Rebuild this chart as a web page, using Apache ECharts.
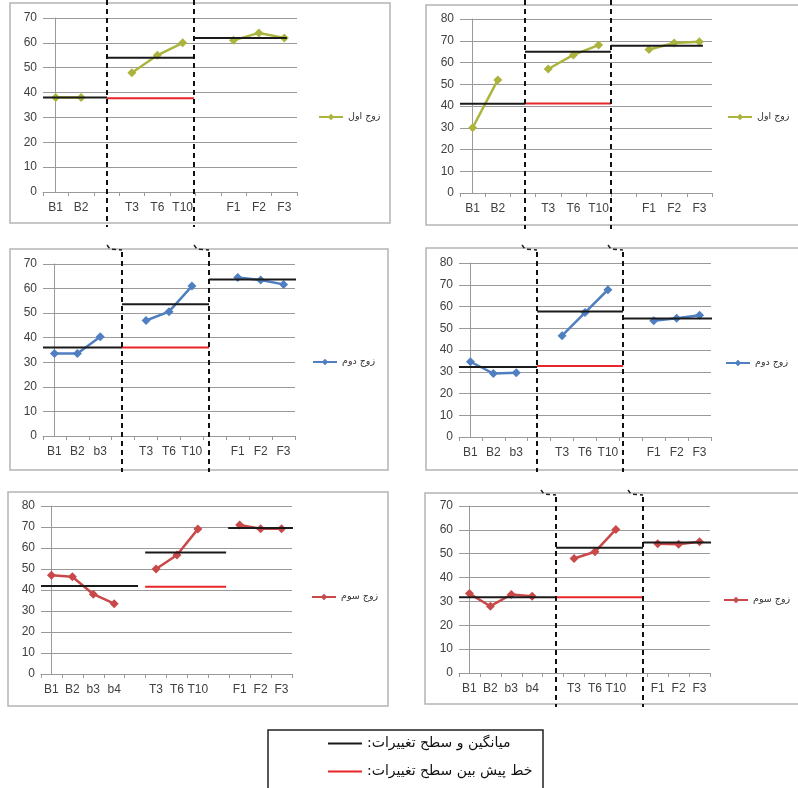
<!DOCTYPE html>
<html>
<head>
<meta charset="utf-8">
<script src="https://cdn.jsdelivr.net/npm/echarts@6/dist/echarts.min.js"></script>
<style>
  html, body { margin: 0; padding: 0; background: #fff; }
  #main { width: 798px; height: 788px; }
</style>
</head>
<body>
<div id="main"></div>
<script>
// category labels (blank entries are the gaps between phases)
const catsA = ['B1', 'B2', '', 'T3', 'T6', 'T10', '', 'F1', 'F2', 'F3'];
const catsB = ['B1', 'B2', 'b3', '', 'T3', 'T6', 'T10', '', 'F1', 'F2', 'F3'];
const catsC = ['B1', 'B2', 'b3', 'b4', '', 'T3', 'T6', 'T10', '', 'F1', 'F2', 'F3'];
const yTicks70 = 70;
const yTicks80 = 80;

// observed scores
const couple1Left = [38, 38, null, 48, 55, 60, null, 61, 64, 62];
const couple1Right = [30, 52, null, 57, 63.5, 68, null, 66, 69, 69.5];
const couple2Left = [33.6, 33.6, 40.4, null, 47, 50.6, 61, null, 64.5, 63.5, 61.7];
const couple2Right = [34.6, 29.2, 29.5, null, 46.6, 57.2, 67.7, null, 53.5, 54.6, 56];
const couple3Left = [47, 46.3, 38, 33.5, null, 50, 56.7, 69, null, 71, 69.2, 69.2];
const couple3Right = [33.3, 28, 32.9, 32.2, null, 48, 50.8, 60.2, null, 54.2, 54, 55];

// phase means (baseline, treatment, follow-up) and projected baseline level
const means1Left = [38, 54, 62];
const means1Right = [41, 65, 67.7];
const means2Left = [36, 53.6, 63.7];
const means2Right = [32.2, 57.7, 54.5];
const means3Left = [41.9, 57.8, 69.5];
const means3Right = [31.7, 52.5, 54.7];
const pred1Left = 37.7, pred1Right = 41.2, pred2Left = 36, pred2Right = 32.6, pred3Left = 41.5, pred3Right = 31.7;

// phase extents and divider positions, in category units
const phases1Left = [[-0.5, 2.02], [2.02, 5.44], [5.44, 9.1]];
const phases1Right = [[-0.5, 2.08], [2.08, 5.49], [5.49, 9.14]];
const phases2Left = [[-0.5, 2.95], [2.95, 6.75], [6.75, 10.6]];
const phases2Right = [[-0.5, 2.91], [2.91, 6.66], [6.66, 10.68]];
const phases3Left = [[-0.5, 4.14], [4.48, 8.35], [8.45, 12.47]];
const phases3Right = [[-0.5, 4.14], [4.14, 8.3], [8.3, 12.47]];
const dividers1Left = [2.02, 5.44];
const dividers1Right = [2.08, 5.49];
const dividers2Left = [2.95, 6.75];
const dividers2Right = [2.91, 6.66];
const dividers3Left = [];
const dividers3Right = [4.14, 8.3];

const NAME1 = 'زوج اول';
const NAME2 = 'زوج دوم';
const NAME3 = 'زوج سوم';
const MEAN_NAME = 'میانگین و سطح تغییرات:\u200F';
const PRED_NAME = 'خط پیش بین سطح تغییرات:\u200F';

const panels = [
  { cats: catsA, vals: couple1Left, name: NAME1, color: '#abb53e', means: means1Left, pred: pred1Left,
    phases: phases1Left, dividers: dividers1Left, max: yTicks70,
    grid: { left: 43, top: 18, width: 254, height: 174 }, frame: [10, 3, 380, 220], dash: [0, 227], hook: false,
    legend: { left: 318, top: 112 } },
  { cats: catsA, vals: couple1Right, name: NAME1, color: '#abb53e', means: means1Right, pred: pred1Right,
    phases: phases1Right, dividers: dividers1Right, max: yTicks80,
    grid: { left: 460, top: 19, width: 252, height: 174 }, frame: [426, 5, 380, 220], dash: [0, 229], hook: false,
    legend: { left: 727, top: 112 } },
  { cats: catsB, vals: couple2Left, name: NAME2, color: '#4f7fc0', means: means2Left, pred: pred2Left,
    phases: phases2Left, dividers: dividers2Left, max: yTicks70,
    grid: { left: 43, top: 264, width: 252, height: 172 }, frame: [10, 249, 378, 221], dash: [252, 472], hook: true,
    legend: { left: 312, top: 357 } },
  { cats: catsB, vals: couple2Right, name: NAME2, color: '#4f7fc0', means: means2Right, pred: pred2Right,
    phases: phases2Right, dividers: dividers2Right, max: yTicks80,
    grid: { left: 459, top: 263, width: 252, height: 174 }, frame: [426, 248, 380, 222], dash: [252, 472], hook: true,
    legend: { left: 725, top: 358 } },
  { cats: catsC, vals: couple3Left, name: NAME3, color: '#c9494a', means: means3Left, pred: pred3Left,
    phases: phases3Left, dividers: dividers3Left, max: yTicks80,
    grid: { left: 41, top: 506, width: 251, height: 168 }, frame: [8, 492, 380, 214], dash: [0, 0], hook: false,
    legend: { left: 311, top: 592 } },
  { cats: catsC, vals: couple3Right, name: NAME3, color: '#c9494a', means: means3Right, pred: pred3Right,
    phases: phases3Right, dividers: dividers3Right, max: yTicks70,
    grid: { left: 459, top: 506, width: 251, height: 167 }, frame: [425, 493, 380, 211], dash: [497, 707], hook: true,
    legend: { left: 723, top: 595 } }
];

const axisGrey = '#9a9a9a';
const labelStyle = { fontSize: 12, color: '#404040', fontFamily: 'Liberation Sans' };

const grids = [], xAxes = [], yAxes = [], series = [], legends = [];
panels.forEach((p, i) => {
  grids.push(Object.assign({ containLabel: false }, p.grid));
  xAxes.push({
    gridIndex: i, type: 'category', data: p.cats, boundaryGap: true,
    axisLine: { lineStyle: { color: axisGrey } },
    axisTick: { show: true, length: 4, lineStyle: { color: axisGrey } },
    axisLabel: Object.assign({ interval: 0, margin: 10 }, labelStyle),
    splitLine: { show: false }
  });
  xAxes.push({ gridIndex: i, type: 'value', min: -0.5, max: p.cats.length - 0.5, show: false });
  yAxes.push({
    gridIndex: i, type: 'value', min: 0, max: p.max, interval: 10,
    axisLine: { show: true, lineStyle: { color: axisGrey } },
    axisTick: { show: true, length: 4, lineStyle: { color: axisGrey } },
    axisLabel: Object.assign({ margin: 6 }, labelStyle),
    splitLine: { lineStyle: { color: axisGrey, width: 1 } }
  });
  series.push({
    type: 'line', name: p.name, xAxisIndex: 2 * i, yAxisIndex: i, data: p.vals,
    symbol: 'diamond', symbolSize: 9, connectNulls: false, z: 3,
    lineStyle: { color: p.color, width: 2.5 }, itemStyle: { color: p.color }
  });
  p.phases.forEach((ph, j) => {
    series.push({
      type: 'line', name: MEAN_NAME, xAxisIndex: 2 * i + 1, yAxisIndex: i, clip: false, z: 4,
      data: [[ph[0], p.means[j]], [ph[1], p.means[j]]], symbol: 'none', silent: true,
      lineStyle: { color: '#1a1a1a', width: 2 }, itemStyle: { color: '#1a1a1a' }
    });
  });
  series.push({
    type: 'line', name: PRED_NAME, xAxisIndex: 2 * i + 1, yAxisIndex: i, clip: false, z: 4,
    data: [[p.phases[1][0], p.pred], [p.phases[1][1], p.pred]], symbol: 'none', silent: true,
    lineStyle: { color: '#e8262a', width: 2 }, itemStyle: { color: '#e8262a' }
  });
  legends.push({
    data: [p.name], left: p.legend.left, top: p.legend.top, itemWidth: 24, itemHeight: 8, itemGap: 2,
    padding: 0, textStyle: { fontSize: 9.5, color: '#333', fontFamily: 'DejaVu Sans' }
  });
});
legends.push({
  data: [{ name: MEAN_NAME, icon: 'rect' }, { name: PRED_NAME, icon: 'rect' }],
  orient: 'vertical', left: 328, top: 735, itemWidth: 34, itemHeight: 2, padding: 0,
  itemGap: 11, textStyle: { fontSize: 14, color: '#111', fontFamily: 'DejaVu Sans', lineHeight: 17 }
});

const chart = echarts.init(document.getElementById('main'));
chart.setOption({
  backgroundColor: '#fff',
  animation: false,
  grid: grids, xAxis: xAxes, yAxis: yAxes, legend: legends, series: series
});

// panel frames, phase dividers, legend box
const graphics = [];
panels.forEach((p, i) => {
  graphics.push({
    type: 'rect', silent: true, z: 0,
    shape: { x: p.frame[0], y: p.frame[1], width: p.frame[2], height: p.frame[3] },
    style: { fill: 'none', stroke: '#b4b4b4', lineWidth: 1.5 }
  });
  p.dividers.forEach(d => {
    const x = Math.round(chart.convertToPixel({ xAxisIndex: 2 * i + 1 }, d));
    graphics.push({
      type: 'line', silent: true, z: 10,
      shape: { x1: x, y1: p.dash[0], x2: x, y2: p.dash[1] },
      style: { stroke: '#111', lineWidth: 2, lineDash: [5, 4] }
    });
    if (p.hook) {
      graphics.push({
        type: 'polyline', silent: true, z: 10,
        shape: { points: [[x - 15, p.dash[0] - 7], [x - 12, p.dash[0] - 3], [x, p.dash[0] - 2]] },
        style: { stroke: '#222', lineWidth: 1.5, lineDash: [4, 3], fill: 'none' }
      });
    }
  });
});
graphics.push({
  type: 'rect', silent: true,
  shape: { x: 268, y: 730, width: 275, height: 64 },
  style: { fill: 'none', stroke: '#222', lineWidth: 1.5 }
});
chart.setOption({ graphic: graphics });
</script>
</body>
</html>
